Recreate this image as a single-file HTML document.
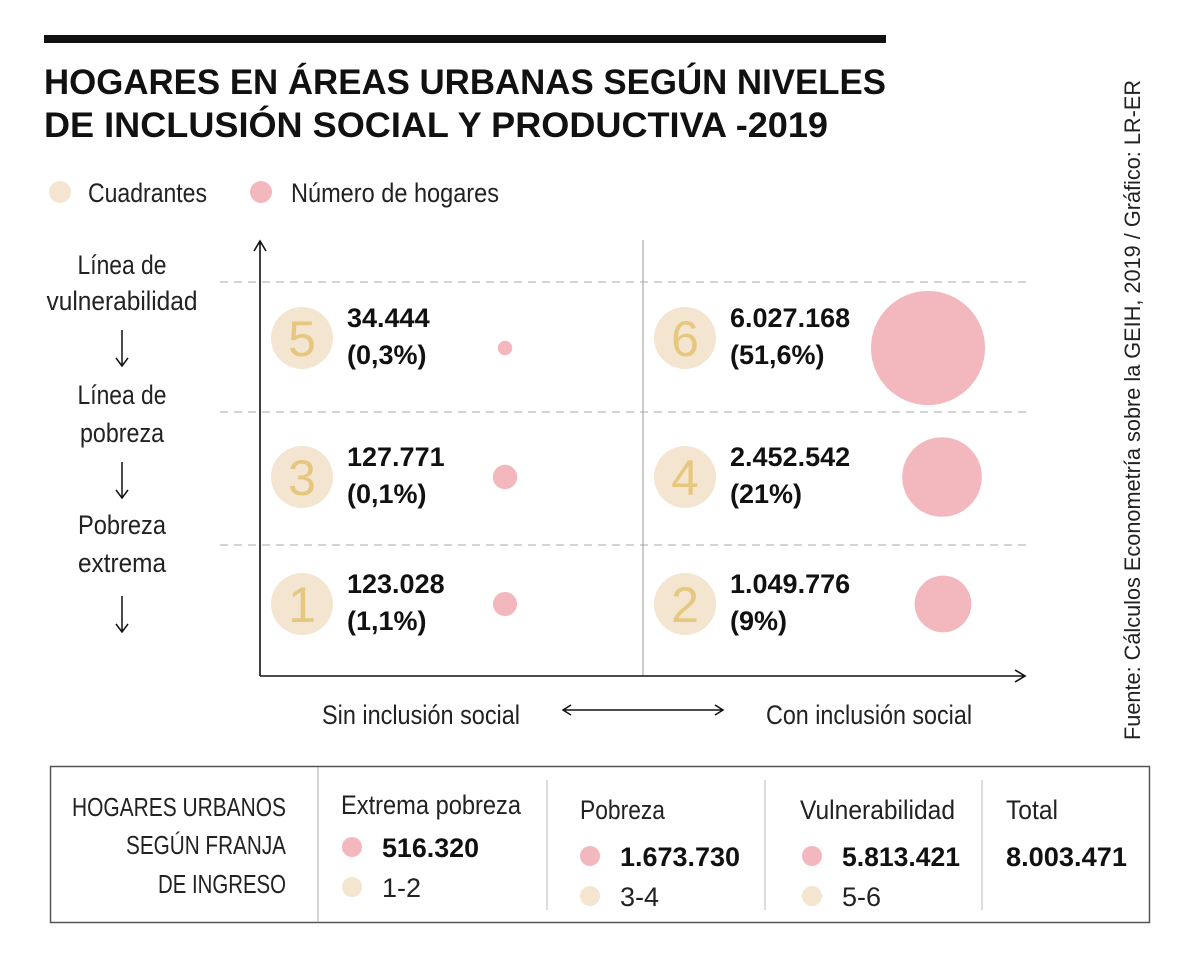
<!DOCTYPE html>
<html><head><meta charset="utf-8"><style>
body{margin:0;background:#fff}
svg{display:block;font-family:"Liberation Sans Narrow","Liberation Sans",sans-serif}
</style></head><body>
<svg id="c" width="1200" height="964" viewBox="0 0 1200 964">
<rect x="44" y="35" width="842" height="8" fill="#111"/>
<text x="44" y="94" font-size="35" font-weight="bold" fill="#111" textLength="842" lengthAdjust="spacingAndGlyphs">HOGARES EN ÁREAS URBANAS SEGÚN NIVELES</text>
<text x="44" y="137" font-size="35" font-weight="bold" fill="#111" textLength="784" lengthAdjust="spacingAndGlyphs">DE INCLUSIÓN SOCIAL Y PRODUCTIVA -2019</text>
<g>
<circle cx="60" cy="192" r="11" fill="#f3e5d0"/>
<text x="88" y="202" font-size="27" fill="#222" textLength="119" lengthAdjust="spacingAndGlyphs">Cuadrantes</text>
<circle cx="261" cy="192" r="11" fill="#f2b8bd"/>
<text x="291" y="202" font-size="27" fill="#222" textLength="208" lengthAdjust="spacingAndGlyphs">Número de hogares</text>
</g>
<text transform="translate(1140,740) rotate(-90)" font-size="22" fill="#222" textLength="660" lengthAdjust="spacingAndGlyphs">Fuente: Cálculos Econometría sobre la GEIH, 2019 / Gráfico: LR-ER</text>
<g id="axes"></g>
<g id="marks"></g>
<g font-size="27" fill="#222" text-anchor="middle" lengthAdjust="spacingAndGlyphs">
<text x="122" y="274" textLength="89" lengthAdjust="spacingAndGlyphs">Línea de</text><text x="122" y="310" textLength="151" lengthAdjust="spacingAndGlyphs">vulnerabilidad</text>
<text x="122" y="404" textLength="89" lengthAdjust="spacingAndGlyphs">Línea de</text><text x="122" y="442" textLength="84" lengthAdjust="spacingAndGlyphs">pobreza</text>
<text x="122" y="534" textLength="88" lengthAdjust="spacingAndGlyphs">Pobreza</text><text x="122" y="572" textLength="88" lengthAdjust="spacingAndGlyphs">extrema</text>
</g>
<g stroke="#111" stroke-width="1.5" fill="none">
<path d="M122 330V365M116 358L122 366L128 358"/>
<path d="M122 462V497M116 490L122 498L128 490"/>
<path d="M122 596V631M116 624L122 632L128 624"/>
</g>
<text x="322" y="724" font-size="27" fill="#222" textLength="198" lengthAdjust="spacingAndGlyphs">Sin inclusión social</text>
<text x="766" y="724" font-size="27" fill="#222" textLength="206" lengthAdjust="spacingAndGlyphs">Con inclusión social</text>
<path d="M564 710H722M571 705L563 710L571 715M715 705L723 710L715 715" stroke="#111" stroke-width="1.5" fill="none"/>
<g>
<rect x="50.5" y="766.5" width="1099" height="156" fill="none" stroke="#555" stroke-width="1.5"/>
<line x1="318" y1="767" x2="318" y2="922" stroke="#aaa"/>
<line x1="547" y1="780" x2="547" y2="910" stroke="#bbb"/>
<line x1="765" y1="780" x2="765" y2="910" stroke="#bbb"/>
<line x1="982" y1="780" x2="982" y2="910" stroke="#bbb"/>
<g font-size="26" fill="#222">
<text x="72" y="816" textLength="214" lengthAdjust="spacingAndGlyphs">HOGARES URBANOS</text><text x="126" y="854" textLength="160" lengthAdjust="spacingAndGlyphs">SEGÚN FRANJA</text><text x="158" y="893" textLength="128" lengthAdjust="spacingAndGlyphs">DE INGRESO</text>
</g>
<g font-size="27" fill="#222">
<text x="341" y="814" textLength="180" lengthAdjust="spacingAndGlyphs">Extrema pobreza</text>
<text x="580" y="819" textLength="85" lengthAdjust="spacingAndGlyphs">Pobreza</text>
<text x="800" y="819" textLength="155" lengthAdjust="spacingAndGlyphs">Vulnerabilidad</text>
<text x="1006" y="819" textLength="52" lengthAdjust="spacingAndGlyphs">Total</text>
<text x="382" y="897">1-2</text><text x="620" y="906">3-4</text><text x="842" y="906">5-6</text>
</g>
<g font-size="27" font-weight="bold" fill="#111">
<text x="382" y="857" textLength="97" lengthAdjust="spacingAndGlyphs">516.320</text><text x="620" y="866" textLength="120" lengthAdjust="spacingAndGlyphs">1.673.730</text><text x="842" y="866" textLength="118" lengthAdjust="spacingAndGlyphs">5.813.421</text><text x="1006" y="866" textLength="121" lengthAdjust="spacingAndGlyphs">8.003.471</text>
</g>
<circle cx="352" cy="847" r="10" fill="#f2b8bd"/><circle cx="352" cy="887" r="10" fill="#f3e5d0"/>
<circle cx="590" cy="856" r="10" fill="#f2b8bd"/><circle cx="590" cy="896" r="10" fill="#f3e5d0"/>
<circle cx="812" cy="856" r="10" fill="#f2b8bd"/><circle cx="812" cy="896" r="10" fill="#f3e5d0"/>
</g>
</svg>
<script>
const quadrants = [5, 6, 3, 4, 1, 2];
const households = [34444, 6027168, 127771, 2452542, 123028, 1049776];
const householdLabels = ["34.444", "6.027.168", "127.771", "2.452.542", "123.028", "1.049.776"];
const shareLabels = ["(0,3%)", "(51,6%)", "(0,1%)", "(21%)", "(1,1%)", "(9%)"];
const ns = "http://www.w3.org/2000/svg";
const axes = document.getElementById("axes"), marks = document.getElementById("marks");
function mk(tag, attrs, parent){const e=document.createElementNS(ns,tag);for(const k in attrs)e.setAttribute(k,attrs[k]);parent.appendChild(e);return e;}
const rowY = [347, 477, 604];
const colX = [260, 643];
const bubbleRightX = [928, 942, 943];
function rScale(v){ return 0.1107 * Math.pow(v, 0.4); }
function bandRow(i){ return rowY[Math.floor(i/2)]; }
function bandCol(i){ return colX[i%2]; }
[282, 412, 545].forEach(y=>{const l=mk("line",{x1:220,y1:y,x2:1032,y2:y,stroke:"#aaa","stroke-dasharray":"8 6"},axes);

});
let d=mk("line",{x1:643,y1:240,x2:643,y2:676,stroke:"#999"},axes);


let ax=mk("path",{d:"M260 676V242M254 251L260 241L266 251M260 676H1024M1015 670L1025 676L1015 682",stroke:"#111","stroke-width":"1.6",fill:"none"},axes);


quadrants.forEach((q,i)=>{
  const x0=bandCol(i), yc=bandRow(i) - (i<2?9:0);
  const c=mk("circle",{cx:x0+42,cy:yc,r:31,fill:"#f3e5d0"},marks);
  
  
  const t=mk("text",{x:x0+42,y:yc+18,"font-size":"50","text-anchor":"middle",fill:"#e6c77f"},marks);
  t.textContent=q;
  
  
  const v=mk("text",{x:x0+87,y:yc-11,"font-size":"27","font-weight":"bold",fill:"#111"},marks);
  v.textContent=householdLabels[i];
  
  
  const s=mk("text",{x:x0+87,y:yc+26,"font-size":"27","font-weight":"bold",fill:"#111"},marks);
  s.textContent=shareLabels[i];
  
  
  const r=rScale(households[i]);
  const bx = i%2===0 ? 505 : bubbleRightX[Math.floor(i/2)];
  const b=mk("circle",{cx:bx,cy:bandRow(i)+(i<2?1:0),r:r,fill:"#f2b8bd"},marks);
  
  
});
</script>
</body></html>
